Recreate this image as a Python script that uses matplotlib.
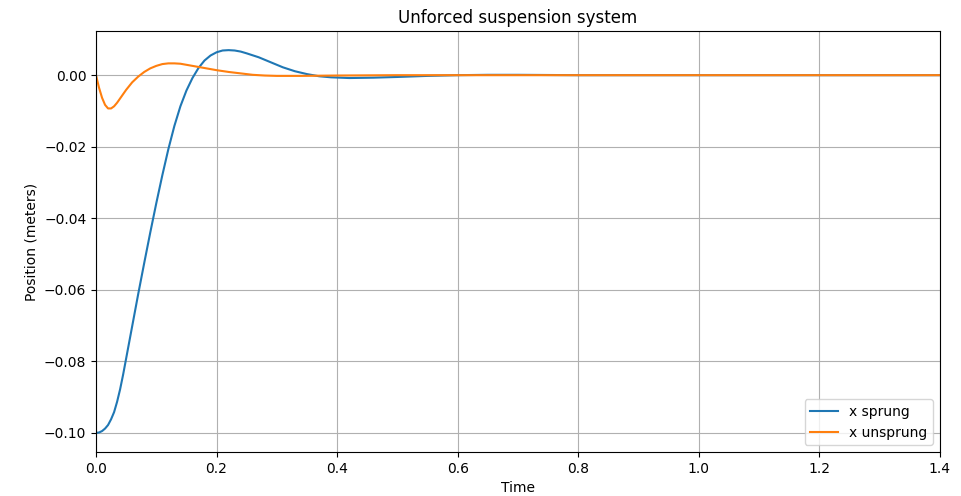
import matplotlib
matplotlib.use("Agg")
import matplotlib.pyplot as plt

# sprung mass position (m) over time (s)
t_sprung = [0.0, 0.005, 0.01, 0.015, 0.02, 0.025, 0.03, 0.035, 0.04, 0.045,
            0.05, 0.06, 0.07, 0.08, 0.09,
            0.10, 0.11, 0.12, 0.13, 0.14, 0.15, 0.16, 0.17, 0.18, 0.19,
            0.20, 0.21, 0.22, 0.23, 0.24, 0.25, 0.27, 0.29, 0.31, 0.33,
            0.35, 0.37, 0.39, 0.42, 0.46, 0.50, 0.55, 0.60, 0.65, 0.70,
            0.80, 1.0, 1.4]
x_sprung = [-0.1000, -0.0999, -0.0995, -0.0988, -0.0978, -0.0962, -0.0942,
            -0.0913, -0.0878, -0.0837, -0.0792, -0.0702,
            -0.0612, -0.0525, -0.0440, -0.0358, -0.0280, -0.0207, -0.0142,
            -0.0087, -0.0043, -0.0008, 0.0020, 0.0041, 0.0055, 0.0064,
            0.0069, 0.0070, 0.0069, 0.0066, 0.0061, 0.0050, 0.0036, 0.0022,
            0.0011, 0.0003, -0.0003, -0.0006, -0.0008, -0.0007, -0.0005,
            -0.0002, 0.0, 0.0001, 0.0001, 0.0, 0.0, 0.0]

# unsprung mass position (m) over time (s)
t_unsprung = [0.0, 0.005, 0.01, 0.015, 0.02, 0.025, 0.03, 0.035, 0.04, 0.05,
              0.06, 0.07, 0.08, 0.09, 0.10, 0.11, 0.12, 0.13, 0.14, 0.15,
              0.16, 0.18, 0.20, 0.22, 0.24, 0.26, 0.28, 0.30, 0.34, 0.40,
              0.50, 1.4]
x_unsprung = [0.0, -0.0035, -0.0063, -0.0083, -0.0093, -0.0093, -0.0087,
              -0.0077, -0.0065, -0.0041, -0.0020, -0.0004, 0.0009, 0.0019,
              0.0026, 0.0031, 0.0033, 0.0033, 0.0032, 0.0029, 0.0026,
              0.0020, 0.0014, 0.0009, 0.0005, 0.0001, -0.0001, -0.0002,
              -0.0002, -0.0001, 0.0, 0.0]

fig, ax = plt.subplots(figsize=(9.62, 4.96), dpi=100)
fig.subplots_adjust(left=0.0998, right=0.977, top=0.9375, bottom=0.0887)

ax.plot(t_sprung, x_sprung, label="x sprung")
ax.plot(t_unsprung, x_unsprung, label="x unsprung")
ax.set_xlim(0, 1.4)
ax.set_title("Unforced suspension system")
ax.set_xlabel("Time")
ax.set_ylabel("Position (meters)")
ax.grid(True)
ax.legend(loc="lower right")

fig.savefig("out.png", dpi=100)
